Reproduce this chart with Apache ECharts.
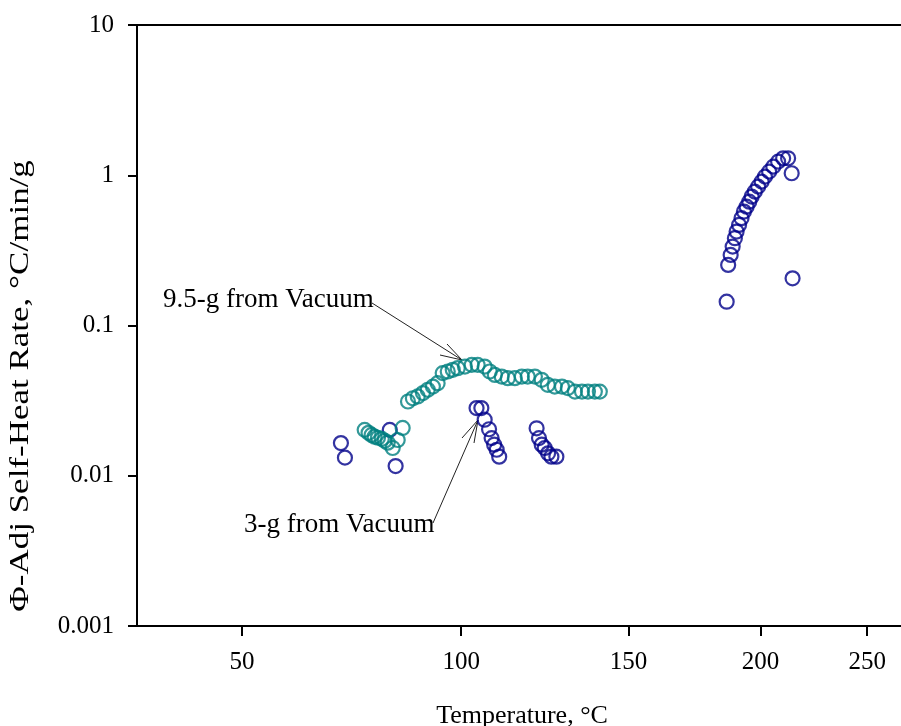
<!DOCTYPE html>
<html>
<head>
<meta charset="utf-8">
<script src="https://cdn.jsdelivr.net/npm/echarts@6.0.0/dist/echarts.min.js"></script>
<style>
  html, body { margin: 0; padding: 0; background: #fff; }
  #chart { width: 901px; height: 726px; }
</style>
</head>
<body>
<div id="chart"></div>
<script>
// 3-g from Vacuum (navy)
const g3Temp = [70.8, 71.7, 82.1, 83.5,
  104.1, 105.4, 106.3, 107.5, 108.2, 108.9, 109.6, 110.3,
  121.0, 121.7, 122.5, 123.4, 124.4, 125.4, 126.9,
  186.1, 186.7, 187.7, 188.5, 189.4, 190.1, 191.1, 192.1, 193.1, 194.2, 195.3,
  196.3, 197.6, 199.0, 200.5, 201.9, 203.7, 205.5, 207.6, 209.8, 212.0, 213.6, 214.0];
const g3Rate = [0.0165, 0.0132, 0.0202, 0.0116,
  0.0282, 0.0282, 0.0236, 0.0204, 0.0178, 0.0161, 0.0149, 0.0134,
  0.0207, 0.0178, 0.0161, 0.0153, 0.0141, 0.0134, 0.0134,
  0.144, 0.253, 0.295, 0.335, 0.381, 0.422, 0.467, 0.518, 0.573, 0.618, 0.667,
  0.721, 0.778, 0.840, 0.907, 0.979, 1.057, 1.141, 1.232, 1.297, 1.297, 1.031, 0.206];

// 9.5-g from Vacuum (teal)
const g95Temp = [76.2, 77.1, 77.8, 78.5, 79.3, 80.2, 80.9, 81.6, 82.8, 84.0, 85.2,
  86.5, 87.7, 88.9, 90.2, 91.4, 92.7, 93.9, 95.2, 96.5, 97.8, 99.1, 101.0, 102.8,
  104.4, 106.3, 107.7, 109.1, 111.0, 112.7, 114.7, 116.7, 118.4, 120.5, 122.5,
  124.3, 126.4, 128.6, 130.4, 132.6, 134.8, 136.7, 138.9, 140.5];
const g95Rate = [0.0202, 0.0193, 0.0187, 0.0182, 0.0179, 0.0176, 0.0171, 0.0166, 0.0153, 0.0173, 0.0208,
  0.0312, 0.0328, 0.0337, 0.0355, 0.0373, 0.0392, 0.0413, 0.0482, 0.0494, 0.0507, 0.0520, 0.0533, 0.0547,
  0.0547, 0.0533, 0.0494, 0.0469, 0.0457, 0.0446, 0.0446, 0.0457, 0.0457, 0.0457, 0.0435,
  0.0403, 0.0392, 0.0392, 0.0383, 0.0363, 0.0363, 0.0363, 0.0363, 0.0363];

const tempTicks = [50, 100, 150, 200, 250];
const rateTicks = [0.001, 0.01, 0.1, 1, 10];

// temperature axis is reciprocal absolute temperature (1000/K)
const inv = (t) => 1000 / (t + 273.15);
const FONT = '"Liberation Serif", "Times New Roman", serif';
const X_MIN = inv(268.1), X_MAX = inv(30.5);

const mChart = echarts.init(document.getElementById('chart'));

const pairs = (ts, rs) => ts.map((t, i) => [inv(t), rs[i]]);

mChart.setOption({
  animation: false,
  backgroundColor: '#fff',
  grid: { left: 137, top: 25, bottom: 100, right: 0 },
  xAxis: [
    {
      type: 'value',
      inverse: true,
      min: X_MIN,
      max: X_MAX,
      axisLine: { lineStyle: { color: '#000', width: 2 } },
      axisTick: {
        customValues: tempTicks.map(inv),
        length: 10,
        lineStyle: { color: '#000', width: 2 },
      },
      axisLabel: {
        customValues: tempTicks.map(inv),
        formatter: (v) => String(Math.round(1000 / v - 273.15)),
        margin: 24,
        color: '#000',
        fontFamily: FONT,
        fontSize: 25,
      },
      splitLine: { show: false },
    },
    {
      // top frame line
      type: 'value',
      position: 'top',
      inverse: true,
      min: X_MIN,
      max: X_MAX,
      axisLine: { lineStyle: { color: '#000', width: 2 } },
      axisTick: { show: false },
      axisLabel: { show: false },
      splitLine: { show: false },
    },
  ],
  yAxis: {
    type: 'log',
    logBase: 10,
    min: 0.001,
    max: 10,
    axisLine: { lineStyle: { color: '#000', width: 2 } },
    axisTick: {
      customValues: rateTicks,
      length: 9,
      lineStyle: { color: '#000', width: 2 },
    },
    axisLabel: {
      customValues: rateTicks,
      formatter: (v) => String(v),
      margin: 23,
      color: '#000',
      fontFamily: FONT,
      fontSize: 25,
    },
    splitLine: { show: false },
    minorTick: { show: false },
  },
  series: [
    {
      name: '3-g from Vacuum',
      type: 'scatter',
      symbol: 'circle',
      symbolSize: 14,
      itemStyle: { color: 'rgba(0,0,0,0)', borderColor: '#00008a', borderWidth: 2.2 },
      data: pairs(g3Temp, g3Rate),
    },
    {
      name: '9.5-g from Vacuum',
      type: 'scatter',
      symbol: 'circle',
      symbolSize: 14,
      itemStyle: { color: 'rgba(0,0,0,0)', borderColor: '#007f7f', borderWidth: 2.2 },
      data: pairs(g95Temp, g95Rate),
    },
  ],
  graphic: [
    {
      type: 'text', x: 21, y: 386, rotation: Math.PI / 2, scaleX: 1.25,
      style: { text: 'Φ-Adj Self-Heat Rate, °C/min/g', font: '28px ' + FONT, fill: '#000', align: 'center', verticalAlign: 'middle' },
    },
    {
      type: 'text', x: 522, y: 716,
      style: { text: 'Temperature, °C', font: '26px ' + FONT, fill: '#000', align: 'center', verticalAlign: 'middle' },
    },
    {
      type: 'text', x: 163, y: 300,
      style: { text: '9.5-g from Vacuum', font: '27px ' + FONT, fill: '#000', align: 'left', verticalAlign: 'middle' },
    },
    {
      type: 'text', x: 244, y: 525,
      style: { text: '3-g from Vacuum', font: '27px ' + FONT, fill: '#000', align: 'left', verticalAlign: 'middle' },
    },
    { type: 'polyline', shape: { points: [[372, 303], [462, 360]] }, style: { stroke: '#222', lineWidth: 1 } },
    { type: 'polyline', shape: { points: [[447, 344], [462, 360], [440, 355]] }, style: { stroke: '#222', lineWidth: 1, fill: null } },
    { type: 'polyline', shape: { points: [[433, 523], [478, 420]] }, style: { stroke: '#222', lineWidth: 1 } },
    { type: 'polyline', shape: { points: [[462, 438], [478, 420], [474, 443]] }, style: { stroke: '#222', lineWidth: 1, fill: null } },
  ],
});
</script>
</body>
</html>
